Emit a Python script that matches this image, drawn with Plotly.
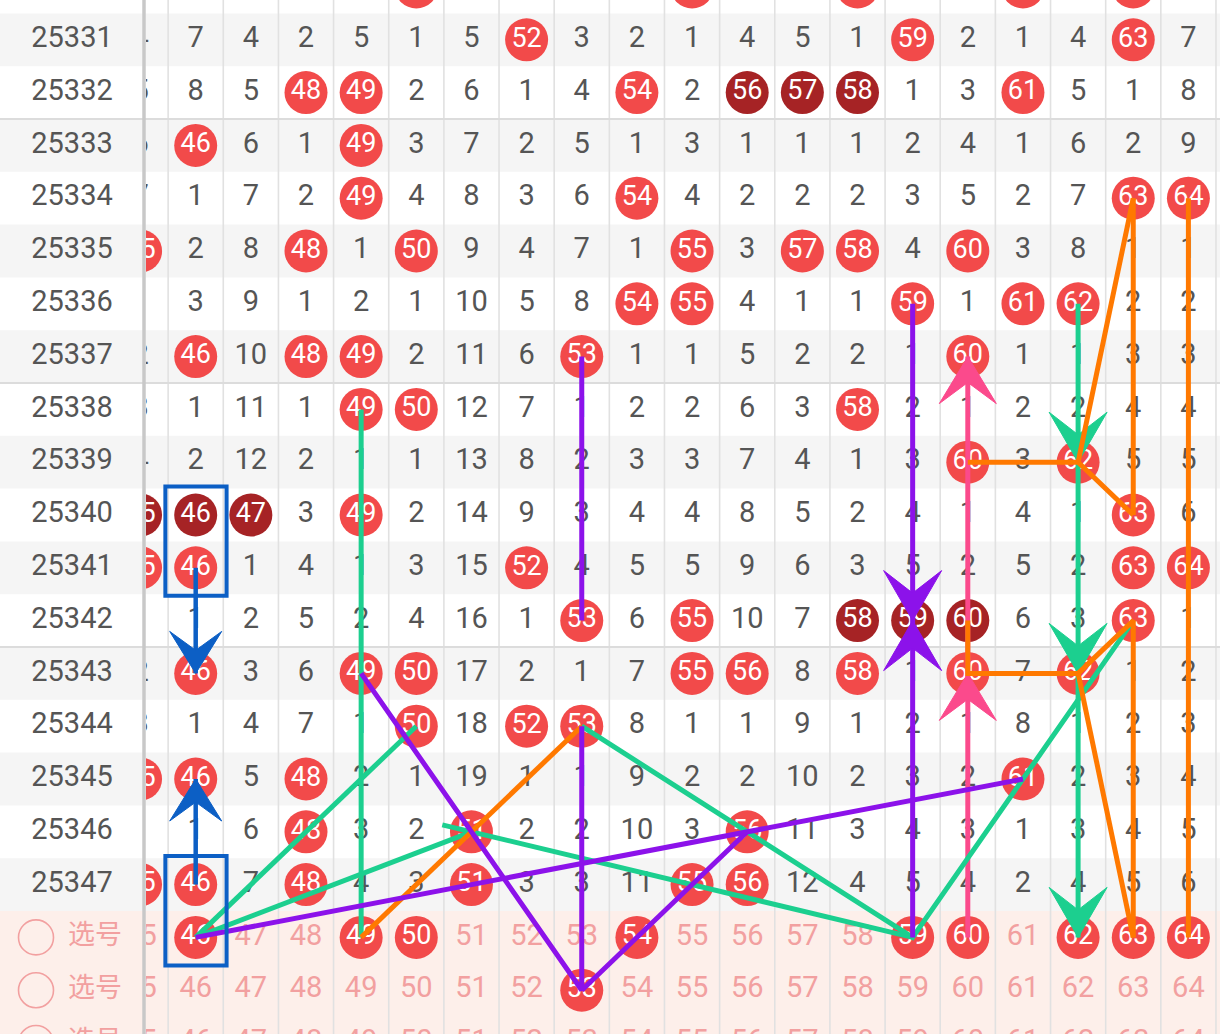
import plotly.graph_objects as go

# ---------------- data ----------------
columns = [45, 46, 47, 48, 49, 50, 51, 52, 53, 54, 55, 56, 57, 58, 59, 60, 61, 62, 63, 64]
periods = [25330, 25331, 25332, 25333, 25334, 25335, 25336, 25337, 25338,
           25339, 25340, 25341, 25342, 25343, 25344, 25345, 25346, 25347]

# omission counts per column 45..64 ; 0 = number drawn in that period
r25330 = [3, 6, 3, 1, 4, 0, 4, 5, 2, 1, 0, 3, 4, 0, 3, 1, 0, 3, 0, 6]
r25331 = [4, 7, 4, 2, 5, 1, 5, 0, 3, 2, 1, 4, 5, 1, 0, 2, 1, 4, 0, 7]
r25332 = [5, 8, 5, 0, 0, 2, 6, 1, 4, 0, 2, 0, 0, 0, 1, 3, 0, 5, 1, 8]
r25333 = [6, 0, 6, 1, 0, 3, 7, 2, 5, 1, 3, 1, 1, 1, 2, 4, 1, 6, 2, 9]
r25334 = [7, 1, 7, 2, 0, 4, 8, 3, 6, 0, 4, 2, 2, 2, 3, 5, 2, 7, 0, 0]
r25335 = [0, 2, 8, 0, 1, 0, 9, 4, 7, 1, 0, 3, 0, 0, 4, 0, 3, 8, 1, 1]
r25336 = [1, 3, 9, 1, 2, 1, 10, 5, 8, 0, 0, 4, 1, 1, 0, 1, 0, 0, 2, 2]
r25337 = [2, 0, 10, 0, 0, 2, 11, 6, 0, 1, 1, 5, 2, 2, 1, 0, 1, 1, 3, 3]
r25338 = [3, 1, 11, 1, 0, 0, 12, 7, 1, 2, 2, 6, 3, 0, 2, 1, 2, 2, 4, 4]
r25339 = [4, 2, 12, 2, 1, 1, 13, 8, 2, 3, 3, 7, 4, 1, 3, 0, 3, 0, 5, 5]
r25340 = [0, 0, 0, 3, 0, 2, 14, 9, 3, 4, 4, 8, 5, 2, 4, 1, 4, 1, 0, 6]
r25341 = [0, 0, 1, 4, 1, 3, 15, 0, 4, 5, 5, 9, 6, 3, 5, 2, 5, 2, 0, 0]
r25342 = [1, 1, 2, 5, 2, 4, 16, 1, 0, 6, 0, 10, 7, 0, 0, 0, 6, 3, 0, 1]
r25343 = [2, 0, 3, 6, 0, 0, 17, 2, 1, 7, 0, 0, 8, 0, 1, 0, 7, 0, 1, 2]
r25344 = [3, 1, 4, 7, 1, 0, 18, 0, 0, 8, 1, 1, 9, 1, 2, 1, 8, 1, 2, 3]
r25345 = [0, 0, 5, 0, 2, 1, 19, 1, 1, 9, 2, 2, 10, 2, 3, 2, 0, 2, 3, 4]
r25346 = [1, 1, 6, 0, 3, 2, 0, 2, 2, 10, 3, 0, 11, 3, 4, 3, 1, 3, 4, 5]
r25347 = [0, 0, 7, 0, 4, 3, 0, 3, 3, 11, 0, 0, 12, 4, 5, 4, 2, 4, 5, 6]

# consecutive (dark) hits
dark_25332 = [56, 57, 58]
dark_25340 = [45, 46, 47]
dark_25342 = [58, 59, 60]

select_label = "选号"
select_rows = ["S1", "S2", "S3"]
select_S1 = [46, 49, 50, 54, 59, 60, 62, 63, 64]
select_S2 = [53]
select_S3 = []

# trend lines (column, period / select row)
pink_paths = [[(60, "S1"), (60, 25337)]]
pink_arrows = [(60, 25337, "up"), (60, 25343, "up")]
green_paths = [
    [(49, 25338), (49, "S1")],
    [(46, "S1"), (50, 25344)],
    [(46, "S1"), (51, 25346)],
    [(51, 25346), (59, "S1")],
    [(53, 25344), (59, "S1"), (63, 25342)],
    [(62, 25336), (62, "S1")],
]
green_arrows = [(62, 25339, "down"), (62, 25343, "down"), (62, "S1", "down")]
orange_paths = [
    [(64, 25334), (64, "S1")],
    [(63, 25334), (63, 25340)],
    [(63, 25334), (62, 25339)],
    [(60, 25339), (62, 25339), (63, 25340)],
    [(60, 25342), (60, 25343), (62, 25343), (63, 25342), (63, "S1")],
    [(62, 25343), (63, "S1")],
    [(49, "S1"), (53, 25344)],
]
purple_paths = [
    [(53, 25337), (53, 25342)],
    [(59, 25336), (59, "S1")],
    [(49, 25343), (53, "S2"), (53, 25344)],
    [(53, "S2"), (56, 25346)],
    [(46, "S1"), (61, 25345)],
]
purple_arrows = [(59, 25342, "down"), (59, 25342, "up")]
blue_paths = [[(46, 25341), (46, 25343)], [(46, 25347), (46, 25345)]]
blue_arrows = [(46, 25343, "down"), (46, 25345, "up")]
blue_boxes = [(46, 25340, 25341), (46, 25347, "S1")]

# ---------------- styling / geometry ----------------
W, H = 1220, 1034
COL_PX0, COL_STEP = 195.7, 55.15      # pixel x of column 46 centre, column pitch
ROW_PY0, ROW_STEP = 39.8, 52.8        # pixel y of period 25331 centre, row pitch
LABEL_W = 146

RED = "#f24a4a"
DARK = "#a62325"
GRAY_TXT = "#555555"
PINK_TXT = "#f2a0a0"
FONT = "Roboto"
CJK = "Noto Sans CJK SC"

rows_data = [r25330, r25331, r25332, r25333, r25334, r25335, r25336, r25337, r25338,
             r25339, r25340, r25341, r25342, r25343, r25344, r25345, r25346, r25347]
dark_map = {25332: dark_25332, 25340: dark_25340, 25342: dark_25342}
select_map = {"S1": select_S1, "S2": select_S2, "S3": select_S3}


def row_of(key):
    if isinstance(key, str):
        return len(periods) - 1 + select_rows.index(key)
    return periods.index(key) - 1


def px(col):
    return COL_PX0 + (col - 46) * COL_STEP


def to_col(p):
    return 46 + (p - COL_PX0) / COL_STEP


def py(row):
    return ROW_PY0 + row * ROW_STEP


def to_row(p):
    return (p - ROW_PY0) / ROW_STEP


fig = go.Figure()

# --- normal numbers, hits ---
nx, ny, nt = [], [], []
hx, hy, ht = [], [], []
dx, dy, dt = [], [], []
for p, vals in zip(periods, rows_data):
    r = row_of(p)
    for c, v in zip(columns, vals):
        if v == 0:
            if c in dark_map.get(p, []):
                dx.append(c); dy.append(r); dt.append(str(c))
            else:
                hx.append(c); hy.append(r); ht.append(str(c))
        else:
            nx.append(c); ny.append(r); nt.append(str(v))

# select rows
sx, sy, st = [], [], []
for key in select_rows:
    r = row_of(key)
    for c in columns:
        if c in select_map[key]:
            hx.append(c); hy.append(r); ht.append(str(c))
        else:
            sx.append(c); sy.append(r); st.append(str(c))

fig.add_trace(go.Scatter(x=nx, y=ny, text=nt, mode="text", cliponaxis=True,
                         textfont=dict(family=FONT, size=29, color=GRAY_TXT), hoverinfo="skip"))
fig.add_trace(go.Scatter(x=sx, y=sy, text=st, mode="text", cliponaxis=True,
                         textfont=dict(family=FONT, size=29, color=PINK_TXT), hoverinfo="skip"))
fig.add_trace(go.Scatter(x=hx, y=hy, text=ht, mode="markers+text", cliponaxis=True,
                         marker=dict(size=43, color=RED, line=dict(width=0)),
                         textfont=dict(family=FONT, size=27, color="white"), hoverinfo="skip"))
fig.add_trace(go.Scatter(x=dx, y=dy, text=dt, mode="markers+text", cliponaxis=True,
                         marker=dict(size=43, color=DARK, line=dict(width=0)),
                         textfont=dict(family=FONT, size=27, color="white"), hoverinfo="skip"))

# --- label column ---
lab_rows = [row_of(p) for p in periods]
fig.add_trace(go.Scatter(x=[72] * len(periods), y=lab_rows, text=[str(p) for p in periods],
                         mode="text", xaxis="x2", yaxis="y", cliponaxis=True,
                         textfont=dict(family=FONT, size=29, color=GRAY_TXT), hoverinfo="skip"))
sel_r = [row_of(k) for k in select_rows]
fig.add_trace(go.Scatter(x=[36] * len(sel_r), y=sel_r, mode="markers", xaxis="x2", yaxis="y",
                         marker=dict(symbol="circle-open", size=35, color=PINK_TXT,
                                     line=dict(width=1.6, color=PINK_TXT)),
                         hoverinfo="skip"))
fig.add_trace(go.Scatter(x=[95] * len(sel_r), y=sel_r, text=[select_label] * len(sel_r),
                         mode="text", xaxis="x2", yaxis="y",
                         textfont=dict(family=CJK, size=27, color=PINK_TXT), hoverinfo="skip"))


# --- trend lines ---
def add_paths(paths, color, width=5, extend_first=None):
    for i, path in enumerate(paths):
        xs = [c for c, _ in path]
        ys = [row_of(k) for _, k in path]
        if extend_first is not None and i == extend_first[0]:
            # extend the start of the segment backwards by some pixels
            x0p, y0p = px(xs[0]), py(ys[0])
            x1p, y1p = px(xs[1]), py(ys[1])
            L = ((x1p - x0p) ** 2 + (y1p - y0p) ** 2) ** 0.5
            e = extend_first[1]
            xs = [to_col(x0p - (x1p - x0p) / L * e)] + xs
            ys = [to_row(y0p - (y1p - y0p) / L * e)] + ys
        fig.add_trace(go.Scatter(x=xs, y=ys, mode="lines", cliponaxis=True,
                                 line=dict(color=color, width=width), hoverinfo="skip"))


def add_arrows(arrows, color, L=48, hw=28.5, notch=0.55):
    for c, k, d in arrows:
        cx, cy = px(c), py(row_of(k))
        s = 1 if d == "down" else -1
        pts = [(cx, cy), (cx + hw, cy - s * L), (cx, cy - s * L * notch),
               (cx - hw, cy - s * L), (cx, cy)]
        fig.add_trace(go.Scatter(x=[to_col(a) for a, _ in pts], y=[to_row(b) for _, b in pts],
                                 mode="lines", fill="toself", fillcolor=color,
                                 line=dict(color=color, width=1), hoverinfo="skip"))


PINK_L, GREEN_L, ORANGE_L, PURPLE_L, BLUE_L = "#fb4a8c", "#1ccf8f", "#ff7900", "#8c12ea", "#0c5fc5"

add_paths(pink_paths, PINK_L)
add_arrows(pink_arrows, PINK_L, L=47, hw=28.5)
add_paths(green_paths, GREEN_L, extend_first=(3, 30))
add_arrows(green_arrows, GREEN_L, L=50, hw=29)
add_paths(orange_paths, ORANGE_L)
add_paths(purple_paths, PURPLE_L)
add_arrows(purple_arrows, PURPLE_L, L=50, hw=29)
add_paths(blue_paths, BLUE_L, width=4.5)
add_arrows(blue_arrows, BLUE_L, L=42, hw=26)

# ---------------- shapes ----------------
shapes = []
for p in periods:
    r = row_of(p)
    if r % 2 == 0:
        shapes.append(dict(type="rect", xref="paper", yref="y", x0=0, x1=1, y0=r - 0.5, y1=r + 0.5,
                           fillcolor="#f5f5f5", line=dict(width=0), layer="below"))
shapes.append(dict(type="rect", xref="paper", yref="y", x0=0, x1=1,
                   y0=row_of("S1") - 0.5, y1=row_of("S3") + 1,
                   fillcolor="#fdefea", line=dict(width=0), layer="below"))
for c in columns:
    shapes.append(dict(type="line", xref="x", yref="paper", x0=c + 0.5, x1=c + 0.5, y0=0, y1=1,
                       line=dict(color="#e1e1e1", width=1.6), layer="below"))
for p in (25332, 25337, 25342):
    r = row_of(p) + 0.5
    shapes.append(dict(type="line", xref="paper", yref="y", x0=0, x1=1, y0=r, y1=r,
                       line=dict(color="#dcdcdc", width=2), layer="below"))
shapes.append(dict(type="line", xref="paper", yref="paper", x0=144 / W, x1=144 / W, y0=0, y1=1,
                   line=dict(color="#c8c8c8", width=3.5), layer="above"))
for c, k0, k1 in blue_boxes:
    r0, r1 = row_of(k0), row_of(k1)
    shapes.append(dict(type="rect", xref="x", yref="y", x0=c - 0.55, x1=c + 0.56,
                       y0=r0 - 0.54, y1=r1 + 0.53, line=dict(color=BLUE_L, width=4),
                       fillcolor="rgba(0,0,0,0)", layer="above"))

fig.update_layout(
    width=W, height=H, margin=dict(l=0, r=0, t=0, b=0),
    paper_bgcolor="white", plot_bgcolor="rgba(0,0,0,0)", showlegend=False,
    xaxis=dict(domain=[LABEL_W / W, 1], range=[to_col(LABEL_W), to_col(W)], visible=False),
    xaxis2=dict(domain=[0, LABEL_W / W], range=[0, LABEL_W], visible=False, anchor="y"),
    yaxis=dict(range=[to_row(H), to_row(0)], visible=False),
    shapes=shapes,
)

fig.write_html("out.html", config={"displayModeBar": False},
               post_script="document.body.style.margin='0';document.body.style.overflow='hidden';")
